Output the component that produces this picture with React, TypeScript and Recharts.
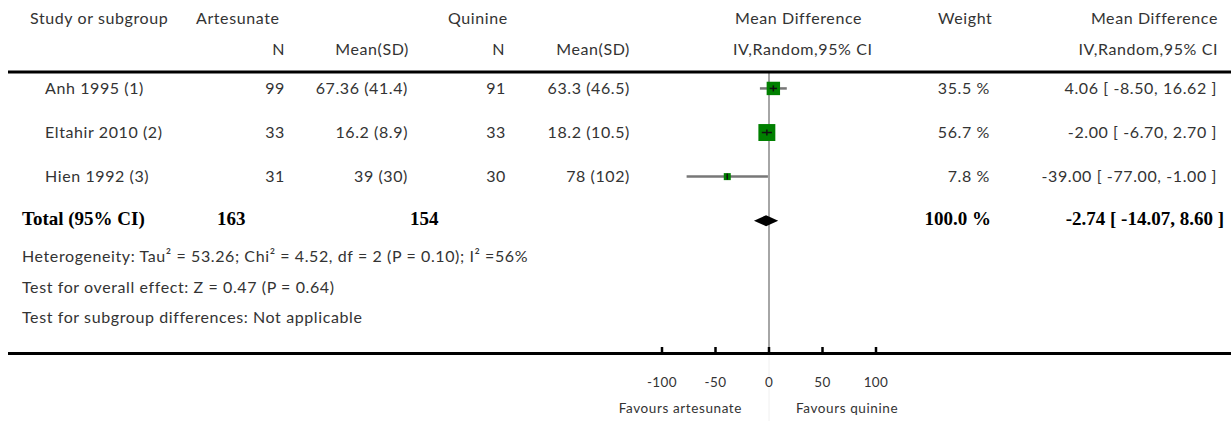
import React from "react";
import { ComposedChart, Scatter, ErrorBar, XAxis, YAxis, ReferenceLine } from "recharts";

// study rows
const studies = ["Anh 1995 (1)", "Eltahir 2010 (2)", "Hien 1992 (3)"];
const artN = [99, 33, 31];
const artMeanSD = ["67.36 (41.4)", "16.2 (8.9)", "39 (30)"];
const quiN = [91, 33, 30];
const quiMeanSD = ["63.3 (46.5)", "18.2 (10.5)", "78 (102)"];
const meanDiff = [4.06, -2.0, -39.0];
const ciLow = [-8.5, -6.7, -77.0];
const ciHigh = [16.62, 2.7, -1.0];
const weights = [35.5, 56.7, 7.8];

// pooled
const totalN = [163, 154];
const totalMd = [-2.74];
const totalLow = [-14.07];
const totalHigh = [8.6];
const totalWeight = ["100.0 %"];

const xTicks = [-100, -50, 0, 50, 100];
const footnotes = [
  "Heterogeneity: Tau² = 53.26; Chi² = 4.52, df = 2 (P = 0.10); I² =56%",
  "Test for overall effect: Z = 0.47 (P = 0.64)",
  "Test for subgroup differences: Not applicable",
];

const W = 1231;
const H = 421;
const PLOT_L = 662;
const PLOT_R = 876;
const PX = (PLOT_R - PLOT_L) / 200;
const SANS = "Lato, 'Open Sans', sans-serif";
const SERIF = "'Liberation Serif', 'DejaVu Serif', serif";
const INK = "#333";

const fmt = (v: number) => v.toFixed(2);

const studyData = studies.map((s, i) => ({
  x: meanDiff[i],
  y: i + 1,
  lo: ciLow[i],
  hi: ciHigh[i],
  w: weights[i],
  err: [meanDiff[i] - ciLow[i], ciHigh[i] - meanDiff[i]],
}));
const totalData = totalMd.map((m, i) => ({ x: m, y: 4, lo: totalLow[i], hi: totalHigh[i] }));

const StudySquare = (props: any) => {
  const { cx, cy, payload } = props;
  const side = Math.max(7, 2.25 * Math.sqrt(payload.w));
  const half = side / 2;
  const inner = Math.max(0, half - 3);
  const left = Math.min(inner, (payload.x - payload.lo) * PX);
  const right = Math.min(inner, (payload.hi - payload.x) * PX);
  return (
    <g>
      <rect x={cx - half} y={cy - half} width={side} height={side} fill="#008000" />
      {left + right > 0 && (
        <line x1={cx - left} x2={cx + right} y1={cy} y2={cy} stroke="#111" strokeWidth={1.5} />
      )}
      <line x1={cx} x2={cx} y1={cy - 3} y2={cy + 3} stroke="#111" strokeWidth={1.5} />
    </g>
  );
};

const Diamond = (props: any) => {
  const { cx, cy, payload } = props;
  const l = cx - (payload.x - payload.lo) * PX;
  const r = cx + (payload.hi - payload.x) * PX;
  return <polygon points={`${l},${cy} ${cx},${cy - 5.5} ${r},${cy} ${cx},${cy + 5.5}`} fill="#000" />;
};

const AxisTick = (props: any) => {
  const { x, y, payload } = props;
  return (
    <g>
      <line x1={x} x2={x} y1={y - 6} y2={y} stroke="#000" strokeWidth={2.5} />
      {payload.value === 0 && <line x1={x} x2={x} y1={y + 2} y2={H} stroke="#f0f0f0" strokeWidth={1} />}
      <text x={x} y={y + 34} textAnchor="middle" fontFamily={SANS} fontSize={13.5} letterSpacing={0.4} fill={INK}>
        {payload.value}
      </text>
    </g>
  );
};

const T = ({ x, y, end, children, size = 16, bold = false }: any) => (
  <text
    x={x}
    y={y}
    textAnchor={end ? "end" : "start"}
    fontFamily={bold ? SERIF : SANS}
    fontWeight={bold ? 700 : 400}
    fontSize={size}
    letterSpacing={bold ? 0 : 0.6}
    fill={bold ? "#000" : INK}
  >
    {children}
  </text>
);

const ROW_Y = [94, 138, 182];

export default function App() {
  return (
    <div style={{ position: "absolute", left: 0, top: 0, width: W, height: H, background: "#fff" }}>
      <ComposedChart width={W} height={H} margin={{ top: 73, right: W - PLOT_R, bottom: 38, left: PLOT_L }}>
        <XAxis
          type="number"
          dataKey="x"
          domain={[-100, 100]}
          ticks={xTicks}
          axisLine={false}
          tickLine={false}
          tickSize={0}
          tickMargin={0}
          tick={<AxisTick />}
          allowDataOverflow
        />
        <YAxis type="number" dataKey="y" domain={[0.65, 7]} reversed hide allowDataOverflow />
        <ReferenceLine x={0} stroke="#888" strokeWidth={1.5} />
        <Scatter data={studyData} shape={<StudySquare />} isAnimationActive={false}>
          <ErrorBar dataKey="err" direction="x" width={0} stroke="#777" strokeWidth={2.5} />
        </Scatter>
        <Scatter data={totalData} shape={<Diamond />} isAnimationActive={false} />
      </ComposedChart>
      <svg width={W} height={H} style={{ position: "absolute", left: 0, top: 0, pointerEvents: "none" }}>
        <line x1={8} x2={W} y1={72} y2={72} stroke="#000" strokeWidth={3} />
        <line x1={8} x2={W} y1={353.5} y2={353.5} stroke="#000" strokeWidth={3} />

        <T x={30} y={24}>Study or subgroup</T>
        <T x={196} y={24}>Artesunate</T>
        <T x={448} y={24}>Quinine</T>
        <T x={735} y={24}>Mean Difference</T>
        <T x={938} y={24}>Weight</T>
        <T x={1218} y={24} end>Mean Difference</T>

        <T x={285} y={55} end>N</T>
        <T x={409} y={55} end>Mean(SD)</T>
        <T x={505} y={55} end>N</T>
        <T x={630} y={55} end>Mean(SD)</T>
        <T x={733} y={55}>IV,Random,95% CI</T>
        <T x={1218} y={55} end>IV,Random,95% CI</T>

        {studies.map((s, i) => (
          <g key={s}>
            <T x={45} y={ROW_Y[i]}>{s}</T>
            <T x={285} y={ROW_Y[i]} end>{artN[i]}</T>
            <T x={408} y={ROW_Y[i]} end>{artMeanSD[i]}</T>
            <T x={506} y={ROW_Y[i]} end>{quiN[i]}</T>
            <T x={630} y={ROW_Y[i]} end>{quiMeanSD[i]}</T>
            <T x={990} y={ROW_Y[i]} end>{weights[i].toFixed(1)} %</T>
            <T x={1217} y={ROW_Y[i]} end>
              {`${fmt(meanDiff[i])} [ ${fmt(ciLow[i])}, ${fmt(ciHigh[i])} ]`}
            </T>
          </g>
        ))}

        <T x={22} y={225} bold size={19}>Total (95% CI)</T>
        <T x={217} y={225} bold size={19}>{totalN[0]}</T>
        <T x={410} y={225} bold size={19}>{totalN[1]}</T>
        <T x={991} y={225} bold size={19} end>{totalWeight[0]}</T>
        <T x={1224} y={225} bold size={19} end>
          {`${fmt(totalMd[0])} [ ${fmt(totalLow[0])}, ${fmt(totalHigh[0])} ]`}
        </T>

        {footnotes.map((f, i) => (
          <T key={f} x={22} y={262 + i * 30.5}>{f}</T>
        ))}

        <T x={742} y={413} end size={13.5}>Favours artesunate</T>
        <T x={796} y={413} size={13.5}>Favours quinine</T>
      </svg>
    </div>
  );
}
